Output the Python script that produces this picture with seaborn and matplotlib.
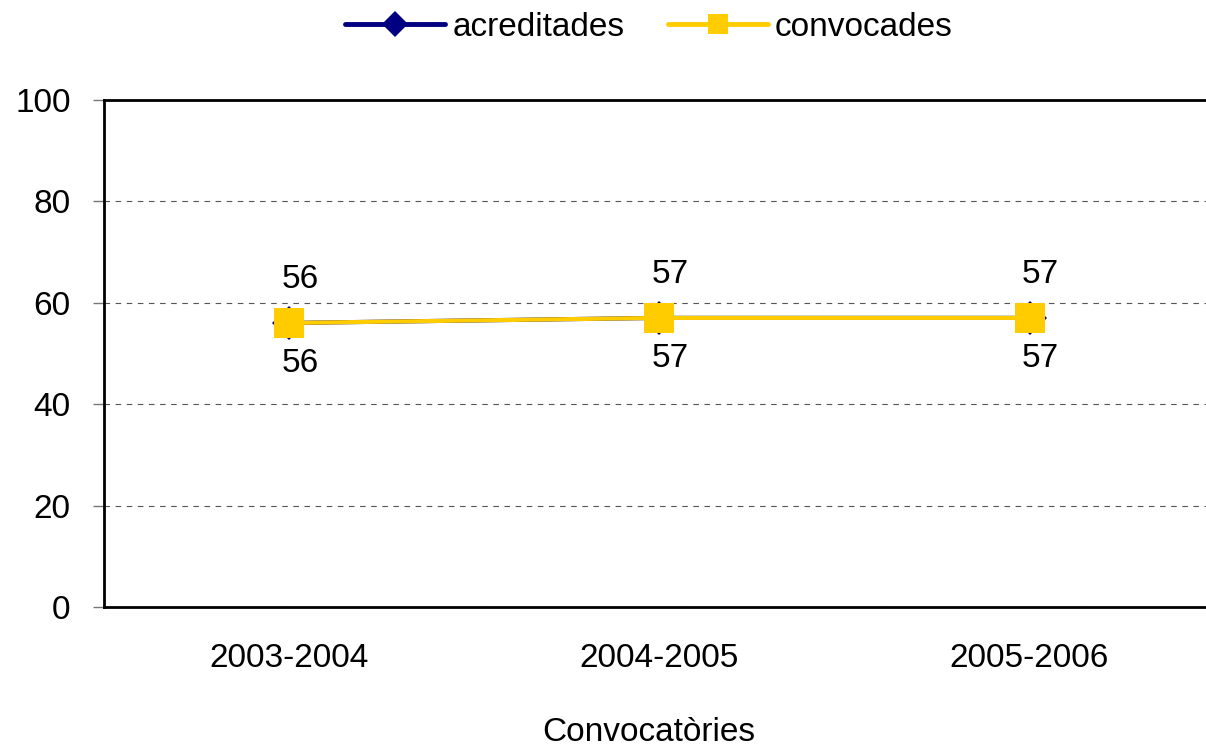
import numpy as np
import pandas as pd
import matplotlib
matplotlib.use("Agg")
import matplotlib.pyplot as plt
import seaborn as sns

# values
convocatories = ["2003-2004", "2004-2005", "2005-2006"]
acreditades = [56, 57, 57]
convocades = [56, 57, 57]
series_names = ["acreditades", "convocades"]
colors = {"acreditades": "#000080", "convocades": "#FFCC00"}

sns.set_style("white")
plt.rcParams["font.family"] = ["Liberation Sans", "DejaVu Sans"]
plt.rcParams["text.color"] = "black"
plt.rcParams["xtick.color"] = "black"
plt.rcParams["ytick.color"] = "black"
plt.rcParams["axes.labelcolor"] = "black"

fs = 24

df = pd.DataFrame({
    "Convocatòries": convocatories * 2,
    "valor": acreditades + convocades,
    "serie": ["acreditades"] * 3 + ["convocades"] * 3,
})

fig = plt.figure(figsize=(12.06, 7.47), dpi=100)
ax = fig.add_axes([0.0862, 0.1874, 0.921, 0.679])

sns.lineplot(data=df[df.serie == "acreditades"], x="Convocatòries", y="valor",
             color=colors["acreditades"], marker="D", markersize=17.5, markeredgewidth=0,
             linewidth=3, sort=False, ax=ax)
sns.lineplot(data=df[df.serie == "convocades"], x="Convocatòries", y="valor",
             color=colors["convocades"], marker="s", markersize=22, markeredgewidth=0,
             linewidth=3, sort=False, ax=ax)

# data labels: convocades above, acreditades below
for i, v in enumerate(convocades):
    ax.annotate(str(v), (i, v), xytext=(8, 31), textcoords="offset points",
                ha="center", va="center", fontsize=fs)
for i, v in enumerate(acreditades):
    ax.annotate(str(v), (i, v), xytext=(8, -29), textcoords="offset points",
                ha="center", va="center", fontsize=fs)

ax.set_xlim(-0.5, 2.5)
ax.set_ylim(0, 100)
ax.set_yticks([0, 20, 40, 60, 80, 100])
ax.yaxis.grid(True, linestyle=(0, (5, 5)), color="#555555", linewidth=0.8)
ax.set_axisbelow(True)

ax.set_xticks(range(len(convocatories)))
ax.set_xticklabels(convocatories)
ax.set_xticks([-0.5, 0.5, 1.5, 2.5], minor=True)
ax.tick_params(axis="x", which="major", length=0, pad=26, labelsize=fs)
ax.tick_params(axis="x", which="minor", length=8, width=1, color="#777777", direction="out")
ax.tick_params(axis="y", length=8, width=1, color="#777777", labelcolor="black",
               direction="out", pad=16, labelsize=fs, left=True)

ax.set_xlabel("")
ax.set_ylabel("")
fig.text(0.538, 0.02, "Convocatòries", ha="center", va="center", fontsize=fs)

for side in ["left", "bottom", "top"]:
    ax.spines[side].set_visible(True)
    ax.spines[side].set_color("black")
    ax.spines[side].set_linewidth(2)
ax.spines["right"].set_visible(False)

handles = [
    plt.Line2D([], [], color=colors["acreditades"], marker="D", markersize=13,
               markeredgewidth=0, linewidth=3.5),
    plt.Line2D([], [], color=colors["convocades"], marker="s", markersize=14,
               markeredgewidth=0, linewidth=3.5),
]
fig.legend(handles, series_names, loc="center", bbox_to_anchor=(0.538, 0.963), ncol=2,
           frameon=False, fontsize=fs, handlelength=3.0, handletextpad=0.2,
           columnspacing=1.3)

fig.savefig("out.png", dpi=100)
